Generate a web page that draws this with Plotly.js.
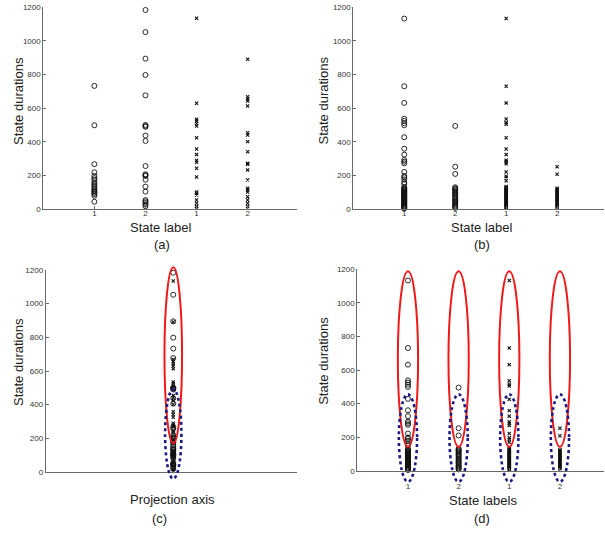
<!DOCTYPE html>
<html>
<head>
<meta charset="utf-8">
<script src="https://cdn.plot.ly/plotly-3.0.1.min.js"></script>
<style>html,body{margin:0;padding:0;background:#fff;}#chart{width:605px;height:534px;}</style>
</head>
<body>
<div id="chart"></div>
<script>
// ---------------- data ----------------
const positions = [1, 2, 3, 4];
const tickLabels = ['1', '2', '1', '2'];
const yTicks = [0, 200, 400, 600, 800, 1000, 1200];

// panel (a): durations per state label (circles: cols 1-2, crosses: cols 3-4)
const a1 = [733, 499, 268, 220, 198, 185, 175, 160, 150, 140, 130, 120, 112, 105, 98, 90, 80, 45];
const a2 = [1184, 1053, 895, 798, 677, 501, 495, 490, 438, 406, 257, 208, 203, 198, 176, 135, 105, 55, 47, 38, 28, 18];
const a3 = [1135, 630, 535, 525, 510, 495, 425, 358, 325, 290, 280, 244, 192, 103, 95, 85, 55, 36, 16, 6];
const a4 = [891, 669, 655, 643, 614, 455, 441, 402, 342, 273, 267, 234, 174, 125, 115, 103, 75, 55, 36, 16];

// panel (b) and (d)
const b1 = [1133, 731, 632, 538, 525, 512, 499, 428, 360, 325, 293, 283, 273, 222, 198, 190, 178, 160, 150,
            130, 125, 120, 116, 112, 108, 104, 100, 96, 92, 88, 84, 80, 76, 72, 68, 64, 60, 56, 52, 48, 44, 40, 36, 32, 28, 24, 20, 16, 12, 8, 4];
const b2 = [495, 253, 210, 131, 125, 120, 114, 108, 100, 94, 88, 80, 72, 66, 60, 52, 46, 40, 32, 26, 20, 14, 8];
const b3 = [1133, 731, 632, 536, 515, 505, 425, 358, 325, 292, 282, 270, 222, 196, 186, 170,
            135, 130, 126, 122, 118, 114, 110, 106, 102, 98, 94, 90, 86, 82, 78, 74, 70, 66, 62, 58, 54, 50, 46, 42, 38, 34, 30, 26, 22, 18, 14, 10, 6];
const b4 = [253, 208, 125, 120, 114, 108, 100, 95, 90, 84, 78, 72, 66, 60, 54, 48, 42, 36, 30, 24, 18, 12];

// cluster envelopes (duration extents)
const cRed = [170, 1217], cBlue = [-40, 491];
const dRed = [143, 1188], dBlue = [-66, 455];

// ---------------- layout helpers ----------------
const W = 605, H = 534;
const FONT = 'Liberation Sans, Arial, Helvetica, sans-serif';
const fx = p => p / W;
const fy = p => 1 - p / H;
const ydom = (top, bot) => [fy(bot), fy(top)];
function extDom(y0px, y1200px, lo, hi) {
  const s = (y0px - y1200px) / 1200;
  return [fy(y0px - lo * s), fy(y0px - hi * s)];
}
const EXT = [-110, 1262];

const circ = {symbol: 'circle-open', size: 5, color: '#111', line: {width: 0.9, color: '#111'}};
const cross = {symbol: 'x-thin-open', size: 3.2, color: '#111', line: {width: 1.1, color: '#111'}};

const traces = [];
function col(vals, pos, xa, ya, m) {
  traces.push({type: 'scatter', mode: 'markers', x: vals.map(() => pos), y: vals,
    xaxis: xa, yaxis: ya, marker: m, hoverinfo: 'y', showlegend: false, cliponaxis: false});
}
// (a)
col(a1, positions[0], 'x', 'y', circ); col(a2, positions[1], 'x', 'y', circ);
col(a3, positions[2], 'x', 'y', cross); col(a4, positions[3], 'x', 'y', cross);
// (b)
col(b1, positions[0], 'x2', 'y2', circ); col(b2, positions[1], 'x2', 'y2', circ);
col(b3, positions[2], 'x2', 'y2', cross); col(b4, positions[3], 'x2', 'y2', cross);
// (c) projection of all (a) durations
col(a1.concat(a2), 1, 'x3', 'y3', circ);
col(a3.concat(a4), 1, 'x3', 'y3', cross);
// (d)
col(b1, positions[0], 'x4', 'y4', circ); col(b2, positions[1], 'x4', 'y4', circ);
col(b3, positions[2], 'x4', 'y4', cross); col(b4, positions[3], 'x4', 'y4', cross);

// invisible anchors for ellipse subplots
traces.push({type: 'scatter', mode: 'markers', x: [1], y: [(cRed[0] + cRed[1]) / 2], xaxis: 'x3', yaxis: 'y5',
  marker: {opacity: 0}, hoverinfo: 'skip', showlegend: false});
traces.push({type: 'scatter', mode: 'markers', x: positions, y: positions.map(() => (dRed[0] + dRed[1]) / 2), xaxis: 'x4', yaxis: 'y6',
  marker: {opacity: 0}, hoverinfo: 'skip', showlegend: false});

const RED = {color: '#f01818', width: 2};
const BLUE = {color: '#1a1a80', width: 2.6, dash: 'dot'};
const shapes = [];
function ell(xa, ya, cx, hw, ext, line) {
  shapes.push({type: 'circle', xref: xa, yref: ya, x0: cx - hw, x1: cx + hw, y0: ext[0], y1: ext[1], line: line, layer: 'above'});
}
ell('x3', 'y5', 1, 0.069, cRed, RED);
ell('x3', 'y5', 1, 0.064, cBlue, BLUE);
positions.forEach(p => { ell('x4', 'y6', p, 0.2, dRed, RED); });
positions.forEach(p => { ell('x4', 'y6', p, 0.18, dBlue, BLUE); });

const axBase = {showgrid: false, zeroline: false, showline: true, linecolor: '#6a6a6a', linewidth: 1,
  ticks: 'inside', ticklen: 3, tickcolor: '#6a6a6a', tickfont: {size: 8, color: '#333', family: FONT}, fixedrange: true};
const yBase = Object.assign({}, axBase, {range: [0, 1200], tickvals: yTicks, ticklabelstandoff: 0});
const xCat = Object.assign({}, axBase, {tickvals: positions, ticktext: tickLabels, ticklabelstandoff: -4});
const hidden = {visible: false, showgrid: false, zeroline: false, range: EXT, fixedrange: true};

function ann(text, px, py, size, angle) {
  return {text: text, xref: 'paper', yref: 'paper', x: fx(px), y: fy(py), xanchor: 'center', yanchor: 'middle',
    showarrow: false, textangle: angle || 0, font: {family: FONT, size: size, color: '#222'}};
}

const layout = {
  width: W, height: H, margin: {l: 0, r: 0, t: 0, b: 0},
  paper_bgcolor: '#fff', plot_bgcolor: 'rgba(0,0,0,0)', showlegend: false,
  font: {family: FONT},
  xaxis: Object.assign({}, xCat, {domain: [fx(43.3), fx(296.7)], range: [0, 4.96], anchor: 'y'}),
  yaxis: Object.assign({}, yBase, {domain: ydom(7.3, 209.3), anchor: 'x'}),
  xaxis2: Object.assign({}, xCat, {domain: [fx(353.3), fx(604)], range: [0, 4.92], anchor: 'y2'}),
  yaxis2: Object.assign({}, yBase, {domain: ydom(7.3, 209.3), anchor: 'x2'}),
  xaxis3: Object.assign({}, axBase, {domain: [fx(45.7), fx(297)], range: [0, 1.97], anchor: 'y3', ticks: '', showticklabels: false}),
  yaxis3: Object.assign({}, yBase, {domain: ydom(270, 472), anchor: 'x3'}),
  xaxis4: Object.assign({}, xCat, {domain: [fx(357.3), fx(604)], range: [0, 4.87], anchor: 'y4', ticklabelstandoff: 8}),
  yaxis4: Object.assign({}, yBase, {domain: ydom(269.3, 470.7), anchor: 'x4'}),
  yaxis5: Object.assign({}, hidden, {domain: extDom(472, 270, EXT[0], EXT[1]), anchor: 'x3'}),
  yaxis6: Object.assign({}, hidden, {domain: extDom(470.7, 269.3, EXT[0], EXT[1]), anchor: 'x4'}),
  shapes: shapes,
  annotations: [
    ann('State durations', 18.3, 100.7, 13, -90),
    ann('State label', 161, 228, 13),
    ann('(a)', 162, 244, 13),
    ann('State durations', 322.5, 101, 13, -90),
    ann('State label', 482, 228, 13),
    ann('(b)', 481.7, 244, 13),
    ann('State durations', 18.3, 361.7, 13, -90),
    ann('Projection axis', 172.5, 499, 13),
    ann('(c)', 159, 518, 13),
    ann('State durations', 323.5, 360.3, 13, -90),
    ann('State labels', 483, 500, 13),
    ann('(d)', 481.7, 518, 13)
  ]
};

Plotly.newPlot('chart', traces, layout, {displayModeBar: false, staticPlot: true});
</script>
</body>
</html>
